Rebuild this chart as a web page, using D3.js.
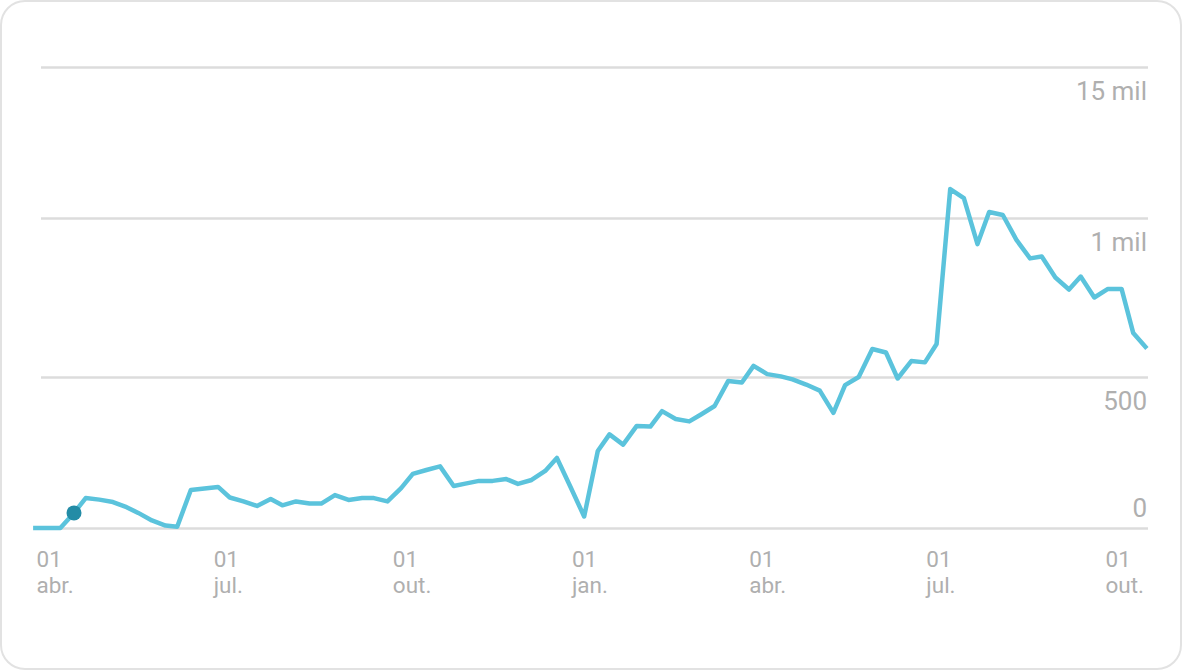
<!DOCTYPE html>
<html>
<head>
<meta charset="utf-8">
<script src="https://cdn.jsdelivr.net/npm/d3@7"></script>
<style>
  html, body { margin: 0; padding: 0; background: #ffffff; }
  svg { display: block; }
  text { font-family: Roboto, "Noto Sans", sans-serif; fill: #afafaf; }
</style>
</head>
<body>
<svg id="chart" width="1182" height="670"></svg>
<script>
// ---- Data ----
const dates = [
  "2019-03-30","2019-04-06","2019-04-13","2019-04-20","2019-04-26","2019-05-03","2019-05-10","2019-05-17",
  "2019-05-23","2019-05-30","2019-06-06","2019-06-12","2019-06-19","2019-06-26","2019-07-03","2019-07-09",
  "2019-07-16","2019-07-23","2019-07-30","2019-08-05","2019-08-12","2019-08-19","2019-08-25","2019-09-01",
  "2019-09-08","2019-09-15","2019-09-21","2019-09-28","2019-10-05","2019-10-11","2019-10-18","2019-10-25",
  "2019-11-01","2019-11-07","2019-11-14","2019-11-21","2019-11-28","2019-12-04","2019-12-11","2019-12-18",
  "2019-12-24","2019-12-31","2020-01-07","2020-01-14","2020-01-20","2020-01-27","2020-02-03","2020-02-10",
  "2020-02-16","2020-02-23","2020-03-01","2020-03-07","2020-03-14","2020-03-21","2020-03-28","2020-04-03",
  "2020-04-10","2020-04-17","2020-04-23","2020-04-30","2020-05-07","2020-05-14","2020-05-20","2020-05-27",
  "2020-06-03","2020-06-10","2020-06-16","2020-06-23","2020-06-30","2020-07-06","2020-07-13","2020-07-20",
  "2020-07-27","2020-08-02","2020-08-09","2020-08-16","2020-08-23","2020-08-29","2020-09-05","2020-09-12",
  "2020-09-18","2020-09-25","2020-10-02","2020-10-09","2020-10-15","2020-10-22"
];
const values = [
  0, 0, 0, 50, 99, 94, 86, 69,
  50, 25, 8, 4, 126, 131, 136, 101,
  88, 73, 96, 75, 88, 81, 81, 109,
  93, 99, 99, 88, 132, 179, 192, 204,
  139, 147, 156, 156, 162, 146, 159, 189,
  232, 136, 38, 255, 310, 276, 338, 336,
  387, 361, 353, 376, 404, 487, 482, 535,
  509, 502, 492, 475, 455, 381, 473, 500,
  588, 577, 495, 550, 546, 604, 1096, 1066,
  918, 1020, 1010, 931, 873, 879, 813, 775,
  816, 750, 777, 777, 638, 590
];
const highlightIndex = 3;

const yTickValues = [0, 500, 1000, 1500];
const yTickLabels = ["0", "500", "1 mil", "15 mil"];

const xTickDates = ["2019-04-01","2019-07-01","2019-10-01","2020-01-01","2020-04-01","2020-07-01","2020-10-01"];
const xTickDay = ["01","01","01","01","01","01","01"];
const xTickMonth = ["abr.","jul.","out.","jan.","abr.","jul.","out."];

// ---- Setup ----
const parse = d3.utcParse("%Y-%m-%d");
const data = dates.map((d, i) => ({ date: parse(d), value: values[i] }));

const svg = d3.select("#chart");
const W = 1182, H = 670;

// card
svg.append("rect")
  .attr("x", 1).attr("y", 1).attr("width", W - 2).attr("height", H - 2)
  .attr("rx", 24).attr("ry", 24)
  .attr("fill", "#ffffff").attr("stroke", "#e2e2e2").attr("stroke-width", 2);

const x = d3.scaleUtc()
  .domain([parse("2019-04-01"), parse("2020-10-01")])
  .range([37, 1106]);

const y = d3.scaleLinear()
  .domain(yTickValues)
  .range([528, 377, 218, 67]);

const gridX0 = 41, gridX1 = 1148;

// gridlines
const yAxis = d3.axisRight(y)
  .tickValues(yTickValues)
  .tickSize(gridX1 - gridX0)
  .tickFormat((d, i) => yTickLabels[i]);

const gy = svg.append("g")
  .attr("transform", `translate(${gridX0},0)`)
  .call(yAxis);
gy.select(".domain").remove();
gy.selectAll(".tick line")
  .attr("stroke", "#dcdcdc").attr("stroke-width", 2.5);
gy.selectAll(".tick text")
  .attr("x", gridX1 - gridX0 - 1)
  .attr("dy", null)
  .attr("y", d => d === 0 ? -11.5 : 32.5)
  .attr("text-anchor", "end")
  .style("font-size", "26px")
  .style("fill", "#afafaf");

// x axis labels
const xAxis = d3.axisBottom(x)
  .tickValues(xTickDates.map(parse))
  .tickSize(0)
  .tickFormat(() => "");
const gx = svg.append("g")
  .attr("transform", "translate(0,528)")
  .call(xAxis);
gx.select(".domain").remove();
gx.selectAll(".tick").each(function(d, i) {
  const t = d3.select(this).select("text");
  t.text(null)
    .attr("y", 0).attr("dy", null)
    .attr("text-anchor", "start")
    .style("font-size", "22.5px")
    .style("fill", "#afafaf");
  t.append("tspan").attr("x", -1).attr("y", 39).text(xTickDay[i]);
  t.append("tspan").attr("x", -1).attr("y", 65).text(xTickMonth[i]);
});

// line
const line = d3.line()
  .x(d => x(d.date))
  .y(d => y(d.value));

svg.append("path")
  .datum(data)
  .attr("d", line)
  .attr("fill", "none")
  .attr("stroke", "#5bc3dc")
  .attr("stroke-width", 4.5)
  .attr("stroke-linejoin", "round")
  .attr("stroke-linecap", "butt");

// highlight point
const hp = data[highlightIndex];
svg.append("circle")
  .attr("cx", x(hp.date))
  .attr("cy", y(hp.value))
  .attr("r", 7.5)
  .attr("fill", "#238ca6");
</script>
</body>
</html>
